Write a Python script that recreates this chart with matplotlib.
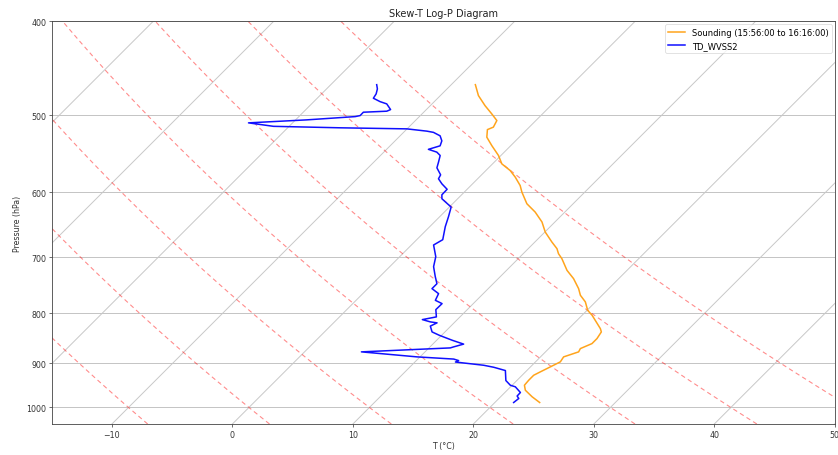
import numpy as np
import matplotlib
matplotlib.use("Agg")
import matplotlib.pyplot as plt
from matplotlib.transforms import Affine2D
from matplotlib.ticker import MultipleLocator, NullLocator, ScalarFormatter

# ---------------- data ----------------
sounding_p = [464.9, 477.1, 488.6, 498.3, 506.2, 514.2, 517.2, 526.6, 537.2, 550.0,
              561.0, 569.9, 578.9, 590.6, 599.9, 616.7, 629.0, 644.0, 659.5, 675.3,
              686.1, 694.3, 702.6, 722.3, 736.6, 754.3, 766.3, 778.4, 794.1, 803.5,
              813.2, 829.3, 835.9, 849.2, 859.4, 869.6, 876.4, 886.9, 897.4, 908.1,
              919.0, 926.4, 937.4, 948.6, 959.9, 975.0, 988.3]
sounding_t = [-8.0, -6.84, -5.46, -4.21, -3.24, -2.98, -3.27, -2.69, -1.58, -0.2,
              0.77, 2.01, 2.98, 4.09, 4.78, 6.16, 7.54, 8.93, 10.03, 11.41,
              12.39, 12.93, 13.63, 15.02, 16.25, 17.5, 18.2, 19.16, 20.05, 20.83,
              21.51, 22.62, 22.98, 23.17, 23.17, 22.62, 22.75, 21.92, 22.06, 21.65,
              21.23, 20.96, 20.96, 21.02, 21.51, 22.62, 23.72]

td_p = [464.9, 469.6, 475.2, 480.1, 484.0, 486.6, 493.2, 495.1, 496.3, 500.3,
        501.5, 505.4, 509.0, 513.2, 515.0, 516.3, 519.1, 520.6, 524.9, 531.2,
        537.5, 542.0, 545.6, 550.0, 558.7, 566.3, 575.8, 581.2, 588.2, 595.9,
        603.7, 609.4, 621.6, 636.0, 651.2, 671.6, 680.1, 699.2, 716.0, 733.2,
        745.5, 754.3, 763.3, 775.5, 781.6, 792.8, 806.6, 811.8, 816.2, 818.1,
        824.4, 835.9, 842.6, 852.7, 855.9, 860.4, 866.1, 868.2, 876.4, 886.9,
        891.5, 894.7, 897.8, 904.7, 909.0, 916.1, 938.1, 948.6, 952.2, 965.1,
        973.2, 978.9, 988.3]
td_t = [-16.19, -15.78, -15.47, -15.34, -14.50, -13.76, -12.97, -13.15, -15.01, -15.00,
        -15.33, -19.07, -23.66, -21.30, -15.64, -10.02, -8.17, -7.52, -6.68, -6.12,
        -5.85, -6.53, -5.60, -5.04, -4.63, -4.29, -3.40, -3.25, -2.55, -1.66,
        -1.64, -1.31, 0.15, 0.73, 1.29, 2.16, 1.84, 2.99, 3.64, 4.61,
        5.33, 5.33, 6.29, 6.58, 7.41, 7.39, 8.04, 7.10, 7.95, 8.59,
        8.30, 8.93, 9.81, 11.31, 11.83, 12.56, 11.96, 11.77, 4.72, 9.76,
        12.98, 13.51, 13.37, 15.98, 16.98, 18.22, 19.09, 19.85, 20.40, 21.29,
        21.31, 21.65, 21.56]

isotherm_t = np.arange(-100, 51, 10)
dry_adiabat_t0 = np.arange(-10, 51, 10)
x_ticks = [-10, 0, 10, 20, 30, 40, 50]
p_ticks = [400, 500, 600, 700, 800, 900, 1000]
t_limits = (-15, 50)
p_limits = (1040, 400)

# ---------------- style ----------------
plt.rcParams['font.family'] = ['DejaVu Sans']
plt.rcParams['font.size'] = 5.7
plt.rcParams['axes.linewidth'] = 0.6
plt.rcParams['xtick.major.size'] = 2.0
plt.rcParams['ytick.major.size'] = 2.0
plt.rcParams['xtick.major.width'] = 0.5
plt.rcParams['ytick.major.width'] = 0.5
plt.rcParams['xtick.major.pad'] = 2.0
plt.rcParams['ytick.major.pad'] = 2.0

W_PX, H_PX = 838, 456
fig = plt.figure(figsize=(W_PX / 100, H_PX / 100), dpi=100)
ax_l, ax_r, ax_t, ax_b = 51.7, 834.8, 22.3, 425.0
ax = fig.add_axes([ax_l / W_PX, 1 - ax_b / H_PX, (ax_r - ax_l) / W_PX, (ax_b - ax_t) / H_PX])
ax.set_yscale('log')
ax.set_xlim(*t_limits)
ax.set_ylim(*p_limits)

# skew so that isotherms run at 45 degrees on screen
shear = np.arctan((ax_b - ax_t) / (ax_r - ax_l))
skew = ax.transScale + ax.transLimits + Affine2D().skew(shear, 0) + ax.transAxes

p_line = np.linspace(p_limits[0], p_limits[1], 200)

# isotherms
for t in isotherm_t:
    ax.plot(np.full(2, t, dtype=float), np.array(p_limits, dtype=float), transform=skew,
            color='#c8c8c8', lw=0.7, zorder=1)

# dry adiabats
for t0 in dry_adiabat_t0:
    tt = (t0 + 273.15) * (p_line / 1000.0) ** 0.2857 - 273.15
    ax.plot(tt, p_line, transform=skew, color='red', ls='--', alpha=0.45, lw=0.8,
            dashes=(4, 3), zorder=1)

# horizontal grid
ax.yaxis.grid(True, color='#c4c4c4', lw=0.7)
ax.set_axisbelow(True)

ax.plot(sounding_t, sounding_p, transform=skew, color='#ffa41c', lw=1.1,
        label='Sounding (15:56:00 to 16:16:00)', zorder=3)
ax.plot(td_t, td_p, transform=skew, color='#1010ff', lw=1.1,
        label='TD_WVSS2', zorder=3)

ax.yaxis.set_major_locator(MultipleLocator(100))
ax.yaxis.set_minor_locator(NullLocator())
ax.yaxis.set_major_formatter(ScalarFormatter())
ax.set_yticks(p_ticks)
ax.set_xticks(x_ticks)
ax.set_xlim(*t_limits)
ax.set_ylim(*p_limits)
for s in ax.spines.values():
    s.set_color('#444444')
ax.tick_params(colors='#333333', labelcolor='#333333')

ax.set_xlabel('T (°C)', color='#333333', labelpad=2)
ax.set_ylabel('Pressure (hPa)', color='#333333', labelpad=3)
ax.set_title('Skew-T Log-P Diagram', fontsize=7.0, color='#222222', pad=4)

leg = ax.legend(loc='upper right', fontsize=6.0, frameon=True, framealpha=0.8,
                borderaxespad=0.35, handlelength=2.0)
leg.get_frame().set_linewidth(0.5)

fig.savefig('out.png', dpi=100)
